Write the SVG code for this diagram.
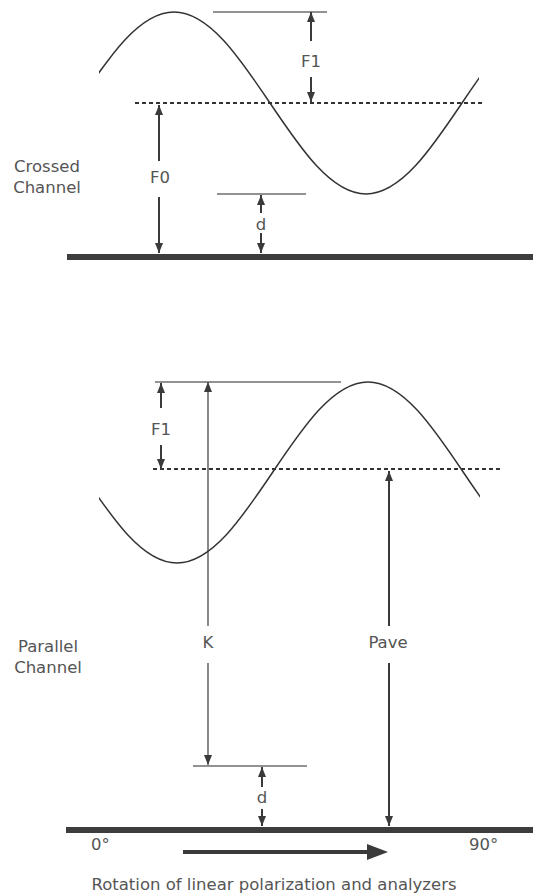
<svg xmlns="http://www.w3.org/2000/svg" width="533" height="895" viewBox="0 0 533 895">
<style>
  .lbl { font-family: "DejaVu Sans", "Liberation Sans", sans-serif; font-size: 16.5px; fill: #555; }
  .mid { text-anchor: middle; }
  .wave { fill: none; stroke: #333; stroke-width: 1.5; }
  .ref { stroke: #6e6e6e; stroke-width: 1.3; fill: none; }
  .dash { stroke: #333; stroke-width: 2; stroke-dasharray: 4 3; fill: none; }
  .arr { stroke: #3a3a3a; stroke-width: 2; fill: none; marker-end: url(#ah); }
  .arr-thin { stroke: #3a3a3a; stroke-width: 1.2; fill: none; marker-end: url(#ah); }
  .bar { fill: #3d3d3d; }
</style>
<defs>
  <marker id="ah" viewBox="0 0 10 8" refX="10" refY="4" markerWidth="10" markerHeight="8" markerUnits="userSpaceOnUse" orient="auto">
    <path d="M0,0 L10,4 L0,8 z" fill="#3a3a3a"/>
  </marker>
  <clipPath id="clipTop"><rect x="99" y="0" width="380" height="250"/></clipPath>
  <clipPath id="clipBot"><rect x="99" y="370" width="381" height="210"/></clipPath>
</defs>
<rect width="533" height="895" fill="#fff"/>

<g id="crossed-panel">
  <g id="crossed-wave">
    <path class="wave" clip-path="url(#clipTop)" d="M-18,194 C51.8,194 104.2,12 174,12 C243.8,12 296.2,194 366,194 C435.8,194 488.2,12 558,12"/>
  </g>
  <g id="crossed-refs">
    <line class="ref" x1="213" y1="12" x2="327" y2="12"/>
    <line class="ref" x1="217" y1="194" x2="306" y2="194"/>
    <line class="dash" x1="135" y1="103" x2="485" y2="103"/>
  </g>
  <g id="crossed-baseline"><rect class="bar" x="67" y="254" width="466" height="6"/></g>
  <g id="crossed-label"><text class="lbl mid" x="47" y="172">Crossed</text><text class="lbl mid" x="47" y="193">Channel</text></g>
  <g id="crossed-F1-label"><text class="lbl mid" x="311" y="67">F1</text></g>
  <g id="crossed-F0-label"><text class="lbl mid" x="160" y="183">F0</text></g>
  <g id="crossed-d-label"><text class="lbl mid" x="261" y="230">d</text></g>
</g>

<g id="parallel-panel">
  <g id="parallel-wave">
    <path class="wave" clip-path="url(#clipBot)" d="M-14,382 C55.4,382 107.6,563 177,563 C246.4,563 298.6,382 368,382 C437.4,382 489.6,563 559,563"/>
  </g>
  <g id="parallel-refs">
    <line class="ref" x1="155" y1="382" x2="341" y2="382"/>
    <line class="ref" x1="193" y1="766" x2="307" y2="766"/>
    <line class="dash" x1="153" y1="469" x2="503" y2="469"/>
  </g>
  <g id="parallel-baseline"><rect class="bar" x="66" y="827" width="467" height="6"/></g>
  <g id="parallel-label"><text class="lbl mid" x="48" y="652">Parallel</text><text class="lbl mid" x="48" y="673">Channel</text></g>
  <g id="parallel-F1-label"><text class="lbl mid" x="161" y="435">F1</text></g>
  <g id="parallel-K-label"><text class="lbl mid" x="208" y="648">K</text></g>
  <g id="parallel-Pave-label"><text class="lbl mid" x="388" y="648">Pave</text></g>
  <g id="parallel-d-label"><text class="lbl mid" x="262" y="803">d</text></g>
  <g id="axis-labels">
    <text class="lbl" x="91" y="850">0°</text>
    <text class="lbl" x="469" y="850">90°</text>
  </g>
  <g id="caption"><text class="lbl mid" x="274" y="890">Rotation of linear polarization and analyzers</text></g>
</g>

<g id="connectors">
  <line class="arr" x1="311" y1="41" x2="311" y2="12"/>
  <line class="arr" x1="311" y1="77" x2="311" y2="102"/>
  <line class="arr" x1="159" y1="161" x2="159" y2="105"/>
  <line class="arr" x1="159" y1="197" x2="159" y2="253"/>
  <line class="arr" x1="261" y1="213" x2="261" y2="195"/>
  <line class="arr" x1="261" y1="233" x2="261" y2="253"/>

  <line class="arr" x1="161" y1="408" x2="161" y2="383"/>
  <line class="arr" x1="161" y1="445" x2="161" y2="469"/>
  <line class="arr-thin" x1="208" y1="626" x2="208" y2="382"/>
  <line class="arr-thin" x1="208" y1="663" x2="208" y2="765"/>
  <line class="arr" x1="389" y1="626" x2="389" y2="471"/>
  <line class="arr" x1="389" y1="663" x2="389" y2="826"/>
  <line class="arr" x1="262" y1="787" x2="262" y2="767"/>
  <line class="arr" x1="262" y1="809" x2="262" y2="826"/>

  <line x1="183" y1="852" x2="370" y2="852" stroke="#3a3a3a" stroke-width="4"/>
  <polygon points="367,844 388,852 367,860" fill="#3a3a3a"/>
</g>
</svg>
